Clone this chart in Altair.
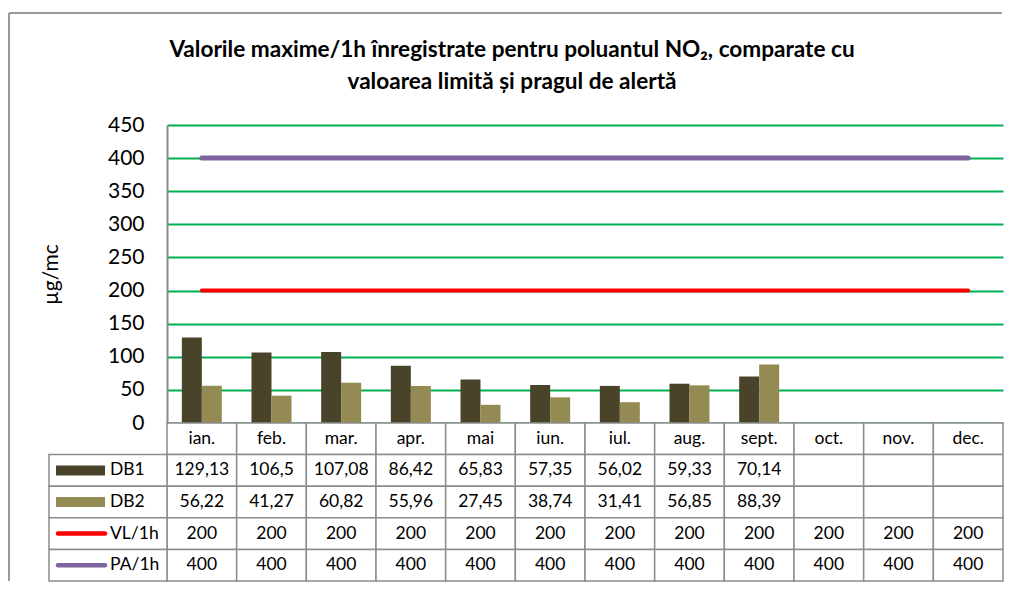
import altair as alt
import pandas as pd

months = ["ian.", "feb.", "mar.", "apr.", "mai", "iun.", "iul.", "aug.", "sept.", "oct.", "nov.", "dec."]
db1 = [129.13, 106.5, 107.08, 86.42, 65.83, 57.35, 56.02, 59.33, 70.14, None, None, None]
db2 = [56.22, 41.27, 60.82, 55.96, 27.45, 38.74, 31.41, 56.85, 88.39, None, None, None]
vl_1h = [200, 200, 200, 200, 200, 200, 200, 200, 200, 200, 200, 200]
pa_1h = [400, 400, 400, 400, 400, 400, 400, 400, 400, 400, 400, 400]
series = ["DB1", "DB2", "VL/1h", "PA/1h"]
series_colors = ["#494429", "#948A54", "#FF0000", "#8064A2"]
y_ticks = [0, 50, 100, 150, 200, 250, 300, 350, 400, 450]
title_lines = ["Valorile maxime/1h înregistrate pentru poluantul NO₂, comparate cu",
               "valoarea limită și pragul de alertă"]
y_title = "µg/mc"

FONT = "Lato"
GRAY = "#8C8C8C"
W, H = 836, 298
ROW_H = 31.6

values_by_series = {"DB1": db1, "DB2": db2, "VL/1h": vl_1h, "PA/1h": pa_1h}


def fmt(v):
    if v is None:
        return ""
    if float(v).is_integer():
        return str(int(v))
    return str(v).replace(".", ",")


bars_df = pd.DataFrame([
    {"month": m, "series": s, "value": values_by_series[s][i]}
    for s in ["DB1", "DB2"] for i, m in enumerate(months)
])
lines_df = pd.DataFrame([
    {"month": m, "series": s, "value": values_by_series[s][i]}
    for s in ["VL/1h", "PA/1h"] for i, m in enumerate(months)
])
row_names = ["hdr"] + series
table_rows = [{"month": m, "row": "hdr", "label": m} for m in months]
for s in series:
    for i, m in enumerate(months):
        table_rows.append({"month": m, "row": s, "label": fmt(values_by_series[s][i])})
table_df = pd.DataFrame(table_rows)
legend_df = pd.DataFrame({"row": series, "series": series,
                          "kind": ["bar", "bar", "line", "line"]})

x_scale = alt.Scale(domain=months, paddingInner=0, paddingOuter=0)
x_enc = alt.X("month:N", sort=months, scale=x_scale, axis=None)
color_enc = alt.Color("series:N", scale=alt.Scale(domain=series, range=series_colors), legend=None)
y_scale = alt.Scale(domain=[0, 450], nice=False, zero=True)
row_scale = alt.Scale(domain=row_names, range=[H, H + 5 * ROW_H], paddingInner=0, paddingOuter=0)
row_enc = alt.Y("row:N", sort=row_names, scale=row_scale, axis=None)

# --- decoration: outer border and title
one = pd.DataFrame({"a": [0]})
border_top = alt.Chart(one).mark_rule(color="#9A9A9A", strokeWidth=2).encode(
    x=alt.value(-158), x2=alt.value(835), y=alt.value(-112))
border_left = alt.Chart(one).mark_rule(color="#9A9A9A", strokeWidth=2).encode(
    x=alt.value(-158), y=alt.value(-112), y2=alt.value(H + 5 * ROW_H))
title1 = alt.Chart(pd.DataFrame({"t": [title_lines[0]]})).mark_text(
    font=FONT, fontSize=22.6, fontWeight="bold", color="black", align="center", baseline="middle"
).encode(x=alt.value(345), y=alt.value(-75), text="t:N")
title2 = alt.Chart(pd.DataFrame({"t": [title_lines[1]]})).mark_text(
    font=FONT, fontSize=22.6, fontWeight="bold", color="black", align="center", baseline="middle"
).encode(x=alt.value(345), y=alt.value(-43), text="t:N")
deco = alt.layer(border_top, border_left, title1, title2)

# --- main plot
y_axis = alt.Axis(values=y_ticks, tickCount=10, labelOverlap=False, title=y_title,
                  grid=True, gridColor="#00B050", gridWidth=2,
                  domainColor=GRAY, domainWidth=2, ticks=False, labelPadding=23,
                  labelFont=FONT, labelFontSize=21, labelColor="black",
                  titleFont=FONT, titleFontSize=21, titleFontWeight="normal", titleColor="black",
                  titlePadding=46)
bars = alt.Chart(bars_df).mark_bar().encode(
    x=x_enc,
    xOffset=alt.XOffset("series:N", scale=alt.Scale(domain=["DB1", "DB2"], paddingInner=0, paddingOuter=0.742)),
    y=alt.Y("value:Q", scale=y_scale, axis=y_axis),
    color=color_enc,
)
line_vl = alt.Chart(lines_df).transform_filter(alt.datum.series == "VL/1h").mark_line(
    strokeWidth=4, strokeCap="round").encode(
    x=x_enc, y=alt.Y("value:Q", scale=y_scale, axis=y_axis), color=color_enc)
line_pa = alt.Chart(lines_df).transform_filter(alt.datum.series == "PA/1h").mark_line(
    strokeWidth=5, strokeCap="round").encode(
    x=x_enc, y=alt.Y("value:Q", scale=y_scale, axis=y_axis), color=color_enc)
main = alt.layer(bars, line_vl, line_pa)

# --- data table
cells = alt.Chart(table_df).mark_rect(fill="white", stroke=GRAY, strokeWidth=1.5).encode(
    x=x_enc, y=row_enc)
leg_cells = alt.Chart(legend_df).mark_rect(fill="white", stroke=GRAY, strokeWidth=1.5).encode(
    x=alt.value(-118), x2=alt.value(0), y=row_enc)
sw_bar = alt.Chart(legend_df).transform_filter(alt.datum.kind == "bar").mark_rule(
    strokeWidth=10, strokeCap="butt").encode(
    x=alt.value(-111), x2=alt.value(-62), y=row_enc, color=color_enc)
sw_line = alt.Chart(legend_df).transform_filter(alt.datum.kind == "line").mark_rule(
    strokeWidth=4.5, strokeCap="round").encode(
    x=alt.value(-109), x2=alt.value(-62), y=row_enc, color=color_enc)
cell_text = alt.Chart(table_df).mark_text(font=FONT, fontSize=17.5, color="black").encode(
    x=x_enc, y=row_enc, text="label:N")
leg_text = alt.Chart(legend_df).mark_text(font=FONT, fontSize=17.5, color="black", align="left").encode(
    x=alt.value(-57), y=row_enc, text="series:N")
table = alt.layer(cells, leg_cells, sw_bar, sw_line, cell_text, leg_text)

chart = alt.layer(deco, main, table).resolve_scale(y="independent").properties(
    width=W, height=H,
    padding={"left": 0, "top": 4, "right": 0, "bottom": 0},
    background="white",
).configure_view(stroke=None)

chart.save("out.html", embed_options={"renderer": "svg", "actions": False})
